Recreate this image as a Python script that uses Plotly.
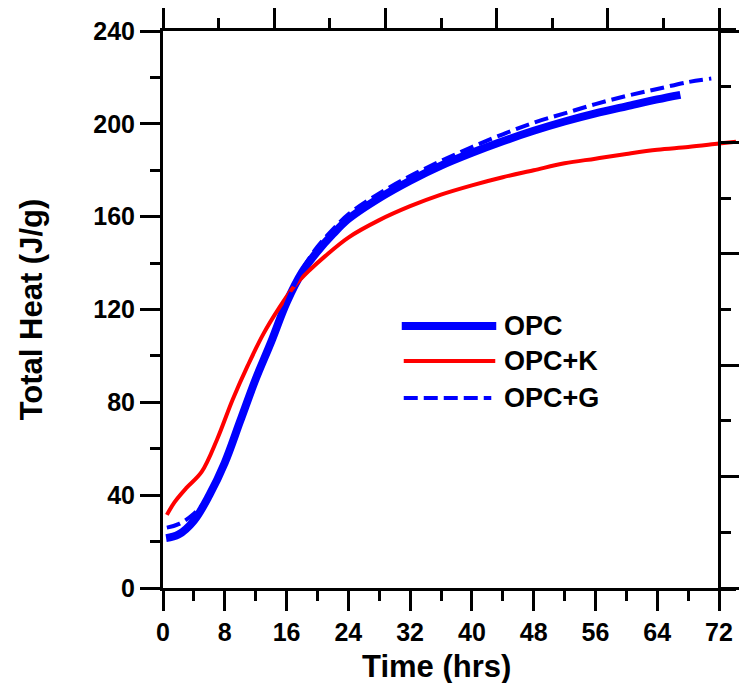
import plotly.graph_objects as go

# ---- data ----
opc_t = [0.4, 2, 4, 6, 8, 10, 12, 14, 16, 18, 20, 22, 24, 28, 32, 36, 40, 44, 48, 52, 56, 60, 64, 67]
opc_q = [21.5, 23, 29, 40, 54, 72, 90, 106, 123, 136, 145, 152.5, 159, 168, 175.5, 182, 187.5, 192.5, 197, 201, 204.5, 207.5, 210.5, 212.5]

opck_t = [0.5, 1.5, 3, 5, 7, 9, 11, 13, 15, 17, 19, 21, 24, 28, 32, 36, 40, 44, 48, 52, 56, 60, 64, 68, 72, 74.2]
opck_q = [31.5, 37, 43, 50, 64, 81, 96, 109.5, 120.5, 130, 137, 143, 151, 158.5, 164.5, 169.5, 173.5, 177, 180, 183, 185, 187, 188.8, 190, 191.5, 192.3]

opcg_t = [0.5, 2, 4, 6, 8, 10, 12, 14, 16, 18, 20, 22, 24, 28, 32, 36, 40, 44, 48, 52, 56, 60, 64, 68, 71]
opcg_q = [26, 27.5, 32, 40, 54, 72, 90, 106, 123, 137, 147, 154.5, 161, 170, 177.5, 184, 190, 195.5, 200.5, 204.5, 208.5, 212, 215, 218, 219.5]

x_ticks = [0, 8, 16, 24, 32, 40, 48, 56, 64, 72]
y_ticks = [0, 40, 80, 120, 160, 200, 240]
legend_names = ["OPC", "OPC+K", "OPC+G"]
x_title = "Time (hrs)"
y_title = "Total Heat (J/g)"

X_MAX = 74.2   # plot area extends a bit past 72 (red curve runs past the frame)
X_FRAME = 72

FONT = "Arial, 'Liberation Sans', sans-serif"
BLUE = "#0000ff"
RED = "#ff0000"

fig = go.Figure()
fig.add_trace(go.Scatter(x=opc_t, y=opc_q, mode="lines", name=legend_names[0],
                         line=dict(color=BLUE, width=8, shape="spline"), showlegend=False))
fig.add_trace(go.Scatter(x=opck_t, y=opck_q, mode="lines", name=legend_names[1],
                         line=dict(color=RED, width=4, shape="spline"), showlegend=False))
fig.add_trace(go.Scatter(x=opcg_t, y=opcg_q, mode="lines", name=legend_names[2],
                         line=dict(color=BLUE, width=4, shape="spline", dash="14px,6px"), showlegend=False))
# empty traces so that the frame axes (top / right) get drawn
fig.add_trace(go.Scatter(x=[], y=[], xaxis="x2", yaxis="y", showlegend=False, hoverinfo="skip"))
fig.add_trace(go.Scatter(x=[], y=[], xaxis="x", yaxis="y2", showlegend=False, hoverinfo="skip"))

tickfont = dict(family=FONT, size=25, color="black", weight="bold")
titlefont = dict(family=FONT, size=31, color="black", weight="bold")

common = dict(showgrid=False, zeroline=False, showline=True, linecolor="black", linewidth=3,
              ticks="outside", ticklen=20, tickwidth=3, tickcolor="black")

fig.update_layout(
    width=739, height=683,
    margin=dict(l=163, r=0, t=31, b=95),
    plot_bgcolor="white", paper_bgcolor="white",
    showlegend=False,
    xaxis=dict(range=[0, X_MAX], tickvals=x_ticks, ticktext=[str(v) for v in x_ticks],
               minor=dict(tickvals=[v + 4 for v in x_ticks[:-1]], ticks="outside", ticklen=10,
                          tickwidth=3, tickcolor="black"),
               tickfont=tickfont, **common),
    yaxis=dict(range=[0, 240], tickvals=y_ticks, ticktext=[str(v) for v in y_ticks],
               minor=dict(tickvals=[v + 20 for v in y_ticks[:-1]], ticks="outside", ticklen=10,
                          tickwidth=3, tickcolor="black"),
               tickfont=tickfont, title=dict(text=y_title, font=titlefont, standoff=42),
               **common),
    xaxis2=dict(overlaying="x", side="top", anchor="y", range=[0, 10 * X_MAX / X_FRAME],
                dtick=2, tick0=0, showticklabels=False,
                minor=dict(dtick=1, ticks="outside", ticklen=10, tickwidth=3, tickcolor="black"),
                **common),
    yaxis2=dict(overlaying="y", side="right", anchor="free", position=X_FRAME / X_MAX,
                range=[0, 10], dtick=2, tick0=0, showticklabels=False,
                minor=dict(dtick=1, ticks="outside", ticklen=10, tickwidth=3, tickcolor="black"),
                **common),
)

PLOT_W = 739 - 163
PLOT_H = 683 - 31 - 95
def px_x(p):
    return (p - 163) / PLOT_W
def px_y(p):
    return (683 - 95 - p) / PLOT_H

# x-axis title centred under the framed region (0..72)
fig.add_annotation(xref="paper", yref="paper", x=px_x(438), y=px_y(666), text=x_title,
                   showarrow=False, xanchor="center", yanchor="middle", font=titlefont)

# manual legend (long line samples as in the reference)
leg_rows = [(326, BLUE, 8, None, 403, 498), (361, RED, 4, None, 405, 497), (398, BLUE, 4, "14px,6px", 405, 493)]
for (yy, col, w, dash, x0, x1), name in zip(leg_rows, legend_names):
    fig.add_shape(type="line", xref="paper", yref="paper",
                  x0=px_x(x0), x1=px_x(x1), y0=px_y(yy), y1=px_y(yy),
                  line=dict(color=col, width=w, dash=dash))
    fig.add_annotation(xref="paper", yref="paper", x=px_x(504), y=px_y(yy), text=name,
                       showarrow=False, xanchor="left", yanchor="middle",
                       font=dict(family=FONT, size=27, color="black", weight="bold"))

fig.write_html("out.html")
